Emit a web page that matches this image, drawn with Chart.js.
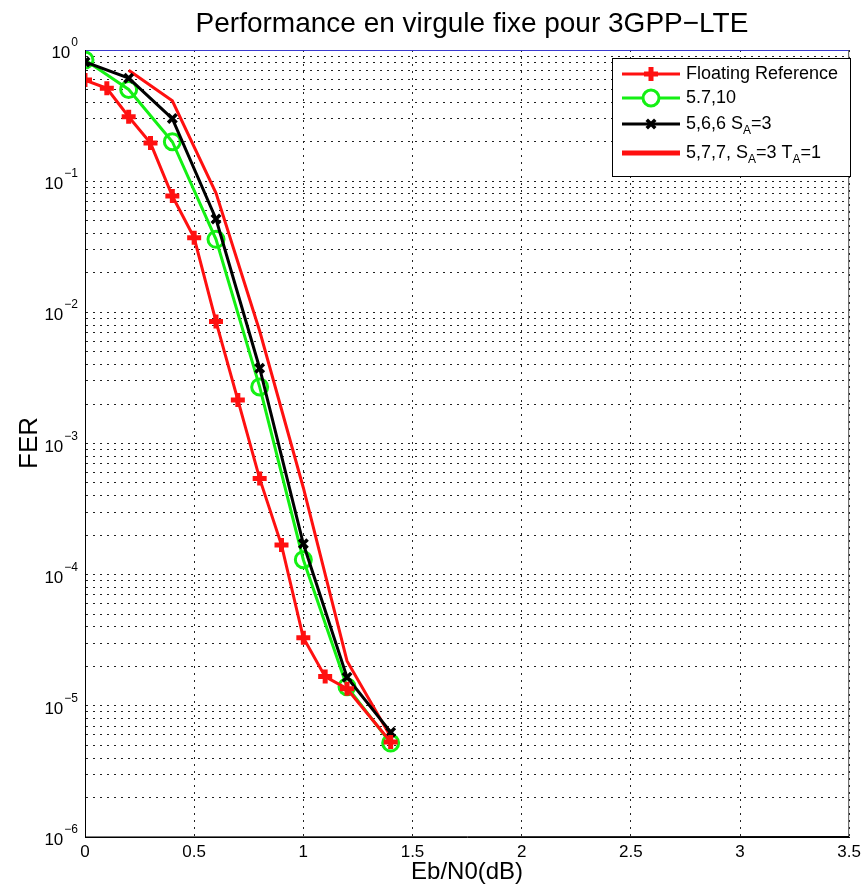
<!DOCTYPE html>
<html lang="fr">
<head>
<meta charset="UTF-8">
<title>Performance en virgule fixe pour 3GPP-LTE</title>
<script src="https://cdn.jsdelivr.net/npm/chart.js"></script>
<style>
  html, body { margin: 0; padding: 0; background: #fff; }
  #wrap { width: 866px; height: 887px; }
</style>
</head>
<body>
<div id="wrap"><canvas id="ferChart" width="866" height="887"></canvas></div>
<script>
// Eb/N0 (dB) abscissas
const floatX = [0, 0.1, 0.2, 0.3, 0.4, 0.5, 0.6, 0.7, 0.8, 0.9, 1.0, 1.1, 1.2, 1.4];
const fixX = [0, 0.2, 0.4, 0.6, 0.8, 1.0, 1.2, 1.4];
const x577 = [0.2, 0.4, 0.6, 0.8, 1.0, 1.2, 1.4];

// FER values
const ferFloating = [0.59, 0.51, 0.31, 0.195, 0.077, 0.037, 0.0085, 0.00215, 0.00054, 0.000168, 0.000033, 0.0000167, 0.0000135, 0.0000053];
const fer5710 = [0.84, 0.50, 0.20, 0.036, 0.0027, 0.00013, 0.000014, 0.0000052];
const fer566 = [0.81, 0.61, 0.30, 0.0515, 0.00375, 0.000172, 0.0000165, 0.0000063];
const fer577 = [0.70, 0.41, 0.081, 0.0072, 0.00046, 0.000022, 0.0000058];

const xTicks = [0, 0.5, 1, 1.5, 2, 2.5, 3, 3.5];
const decades = [0, -1, -2, -3, -4, -5, -6];

const RED = '#ff1010', GREEN = '#14f014', BLACK = '#000000';
const FONT = '"Liberation Sans", Arial, sans-serif';

function pts(xs, ys) { return xs.map((x, i) => ({ x: x, y: ys[i] })); }

// all 1..9 x 10^k positions for the dotted minor grid
const logTicks = [];
for (let e = -6; e <= 0; e++) {
  for (let m = 1; m <= 9; m++) {
    const v = m * Math.pow(10, e);
    if (v <= 1.0000001) logTicks.push(v);
  }
}

const legendItems = [
  { color: RED, style: 'cross', radius: 7, width: 5, parts: [['Floating Reference', 0]] },
  { color: GREEN, style: 'circle', radius: 8, width: 3, parts: [['5.7,10', 0]] },
  { color: BLACK, style: 'crossRot', radius: 6, width: 3.5, parts: [['5,6,6 S', 0], ['A', 1], ['=3', 0]] },
  { color: RED, style: null, parts: [['5,7,7, S', 0], ['A', 1], ['=3 T', 0], ['A', 1], ['=1', 0]] }
];

const decorPlugin = {
  id: 'decor',
  afterDraw(chart) {
    const ctx = chart.ctx, a = chart.chartArea, ys = chart.scales.y;
    ctx.save();
    // title
    ctx.fillStyle = '#000';
    ctx.font = '28px ' + FONT;
    ctx.textAlign = 'center';
    ctx.textBaseline = 'middle';
    ctx.fillText('Performance en virgule fixe pour 3GPP\u2212LTE', 472, 24);
    // y title
    ctx.save();
    ctx.translate(30, 443);
    ctx.rotate(-Math.PI / 2);
    ctx.font = '26px ' + FONT;
    ctx.fillText('FER', 0, 0);
    ctx.restore();
    // y tick labels 10^k
    decades.forEach(e => {
      const y = ys.getPixelForValue(Math.pow(10, e));
      const exp = e === 0 ? '0' : '\u2212' + (-e);
      ctx.font = '12px ' + FONT;
      const ew = ctx.measureText(exp).width;
      ctx.textAlign = 'left';
      ctx.textBaseline = 'alphabetic';
      const right = 78;
      ctx.fillText(exp, right - ew, y - 4);
      ctx.font = '17px ' + FONT;
      ctx.textAlign = 'right';
      ctx.fillText('10', right - ew - 1, y + 8);
    });
    // frame: top edge bluish like the original
    ctx.lineWidth = 1;
    ctx.strokeStyle = '#3a3ad0';
    ctx.beginPath();
    ctx.moveTo(a.left, a.top + 0.5); ctx.lineTo(a.right, a.top + 0.5);
    ctx.stroke();
    ctx.strokeStyle = '#555';
    ctx.beginPath();
    ctx.moveTo(a.right - 0.5, a.top); ctx.lineTo(a.right - 0.5, a.bottom);
    ctx.stroke();
    ctx.strokeStyle = '#000';
    ctx.beginPath();
    ctx.moveTo(a.left + 0.5, a.top); ctx.lineTo(a.left + 0.5, a.bottom);
    ctx.lineTo(a.right, a.bottom - 0.5);
    ctx.stroke();
    // legend box
    const lx = 612, ly = 58, lw = 238, lh = 118;
    ctx.fillStyle = '#fff';
    ctx.fillRect(lx, ly, lw, lh);
    ctx.strokeStyle = '#000';
    ctx.lineWidth = 1;
    ctx.strokeRect(lx + 0.5, ly + 0.5, lw, lh);
    const rowY = [74, 98, 124, 153];
    legendItems.forEach((it, i) => {
      const y = rowY[i];
      ctx.strokeStyle = it.color;
      ctx.lineWidth = it.style ? 3 : 5;
      ctx.beginPath();
      ctx.moveTo(622, y); ctx.lineTo(680, y);
      ctx.stroke();
      if (it.style) {
        ctx.strokeStyle = it.color;
        ctx.fillStyle = it.style === 'circle' ? '#fff' : it.color;
        ctx.lineWidth = it.width;
        Chart.helpers.drawPoint(ctx, { pointStyle: it.style, radius: it.radius, rotation: 0, borderWidth: it.width }, 651, y);
      }
      let x = 686;
      ctx.fillStyle = '#000';
      ctx.textAlign = 'left';
      ctx.textBaseline = 'middle';
      it.parts.forEach(p => {
        ctx.font = (p[1] ? '12px ' : '18px ') + FONT;
        ctx.fillText(p[0], x, y + (p[1] ? 7 : 0));
        x += ctx.measureText(p[0]).width;
      });
    });
    ctx.restore();
  }
};

const dottedGrid = { color: '#222', lineWidth: 1, drawTicks: false };
const dottedBorder = { display: true, color: '#000', width: 1, dash: [2, 5] };

new Chart(document.getElementById('ferChart').getContext('2d'), {
  type: 'line',
  data: {
    datasets: [
      {
        label: 'Floating Reference',
        data: pts(floatX, ferFloating),
        borderColor: RED, backgroundColor: RED,
        borderWidth: 3,
        pointStyle: 'cross', pointRadius: 7, pointBorderWidth: 5,
        order: 1
      },
      {
        label: '5.7,10',
        data: pts(fixX, fer5710),
        borderColor: GREEN, backgroundColor: 'rgba(0,0,0,0)',
        borderWidth: 3,
        pointStyle: 'circle', pointRadius: 8, pointBorderWidth: 3,
        order: 3
      },
      {
        label: '5,6,6 SA=3',
        data: pts(fixX, fer566),
        borderColor: BLACK, backgroundColor: BLACK,
        borderWidth: 3,
        pointStyle: 'crossRot', pointRadius: 6, pointBorderWidth: 3.5,
        order: 2
      },
      {
        label: '5,7,7, SA=3 TA=1',
        data: pts(x577, fer577),
        borderColor: RED, backgroundColor: RED,
        borderWidth: 3,
        pointRadius: 0,
        order: 4
      }
    ]
  },
  options: {
    responsive: false,
    animation: false,
    layout: { padding: { top: 50, right: 13, left: 0, bottom: 0 } },
    plugins: { legend: { display: false }, title: { display: false }, tooltip: { enabled: false } },
    scales: {
      x: {
        type: 'linear',
        min: 0, max: 3.5,
        afterBuildTicks: axis => { axis.ticks = xTicks.map(v => ({ value: v })); },
        afterFit: axis => { axis.height = 50; },
        ticks: {
          color: '#000',
          font: { family: FONT, size: 17 },
          padding: 5,
          maxRotation: 0,
          callback: v => String(v)
        },
        grid: dottedGrid,
        border: dottedBorder,
        title: {
          display: true,
          text: 'Eb/N0(dB)',
          color: '#000',
          font: { family: FONT, size: 24 },
          padding: { top: 4, bottom: 0 }
        }
      },
      y: {
        type: 'logarithmic',
        min: 1e-6, max: 1,
        afterBuildTicks: axis => { axis.ticks = logTicks.map(v => ({ value: v })); },
        afterFit: axis => { axis.width = 85; },
        ticks: { display: false },
        grid: dottedGrid,
        border: dottedBorder
      }
    }
  },
  plugins: [decorPlugin]
});
</script>
</body>
</html>
